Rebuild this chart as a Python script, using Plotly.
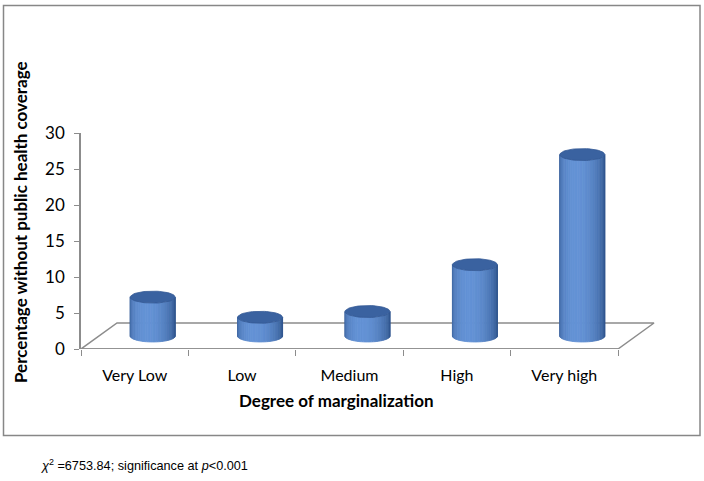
import numpy as np
import plotly.graph_objects as go

categories = ["Very Low", "Low", "Medium", "High", "Very high"]
values = [5.4, 2.6, 3.4, 9.9, 25.2]
y_ticks = [0, 5, 10, 15, 20, 25, 30]

# geometry (pixels of the 704x481 page)
W, H = 704, 481
L, R, T, B = 81, 660, 133, 349
px_per_cat = 107.4
px_per_unit = (B - T) / 30.0
x_max = -0.5 + (R - L) / px_per_cat
depth_dx = 36 / px_per_cat
depth_dy = 26 / px_per_unit
rx = 22.5 / px_per_cat
ry = 6.0 / px_per_unit

fig = go.Figure()

# floor outline
n = len(categories)
fx = [-0.5, -0.5 + depth_dx, n - 0.5 + depth_dx, n - 0.5, -0.5]
fy = [0, depth_dy, depth_dy, 0, 0]
fig.add_trace(go.Scatter(x=fx, y=fy, mode="lines", line=dict(color="#8c8c8c", width=1.5),
                         hoverinfo="skip", showlegend=False))

dark = np.array([36, 70, 124])
light = np.array([100, 147, 214])

def body_color(t):
    # t in [0, pi]; pi = left edge, 0 = right edge
    u = 1 - t / np.pi  # 0 left -> 1 right
    peak = 0.42
    if u < peak:
        k = u / peak
        k = np.sin(k * np.pi / 2) ** 0.7
    else:
        k = (1 - u) / (1 - peak)
        k = np.sin(k * np.pi / 2) ** 1.3
    c = dark + (light - dark) * (0.2 + 0.8 * k)
    return "rgb(%d,%d,%d)" % tuple(c.astype(int))

NS = 28
for i, v in enumerate(values):
    cx = i + depth_dx / 2
    yb = depth_dy / 2
    yt = yb + v
    ts = np.linspace(np.pi, 0, NS + 1)
    for j in range(NS):
        t1, t2 = ts[j], ts[j + 1]
        tt = np.linspace(t1, t2, 4)
        xs_b = cx + rx * np.cos(tt)
        ys_b = yb - ry * np.sin(tt)
        ys_t = yt - ry * np.sin(tt)
        px = list(xs_b) + list(xs_b[::-1]) + [xs_b[0]]
        py = list(ys_b) + list(ys_t[::-1]) + [ys_b[0]]
        col = body_color((t1 + t2) / 2)
        fig.add_trace(go.Scatter(x=px, y=py, mode="lines", fill="toself", fillcolor=col,
                                 line=dict(color=col, width=0.8), hoverinfo="skip",
                                 showlegend=False))
    # top ellipse
    te = np.linspace(0, 2 * np.pi, 60)
    fig.add_trace(go.Scatter(x=cx + rx * np.cos(te), y=yt + ry * np.sin(te), mode="lines",
                             fill="toself", fillcolor="rgb(58,98,160)",
                             line=dict(color="rgb(50,88,148)", width=0.8),
                             hoverinfo="skip", showlegend=False))

# front edge of floor / x axis baseline
fig.add_trace(go.Scatter(x=[-0.5, n - 0.5], y=[0, 0], mode="lines",
                         line=dict(color="#8c8c8c", width=1.5), hoverinfo="skip",
                         showlegend=False))
# invisible trace for category labels axis
fig.add_trace(go.Scatter(x=list(range(n)), y=[0] * n, xaxis="x2", mode="markers",
                         marker=dict(opacity=0), hoverinfo="skip", showlegend=False))

font_main = "Lato, Carlito, Calibri, sans-serif"

fig.update_layout(
    width=W, height=H,
    margin=dict(l=L, r=W - R, t=T, b=H - B),
    paper_bgcolor="white", plot_bgcolor="white",
    font=dict(family=font_main, color="black"),
    xaxis=dict(range=[-0.5, x_max], tickvals=[k - 0.5 for k in range(n + 1)],
               showticklabels=False, ticks="outside", ticklen=6, tickcolor="#8c8c8c",
               tickwidth=1.3, showgrid=False, zeroline=False, showline=False),
    xaxis2=dict(range=[-0.5, x_max], overlaying="x", side="bottom", tickvals=list(range(n)),
                ticktext=categories, ticks="outside", ticklen=12, tickcolor="rgba(0,0,0,0)",
                showgrid=False, zeroline=False, showline=False,
                tickfont=dict(size=16, family=font_main)),
    yaxis=dict(range=[0, 30], tickvals=y_ticks, ticks="outside", ticklen=5,
               tickcolor="#8c8c8c", tickwidth=1.3, showline=True, linecolor="#8c8c8c",
               linewidth=1.5, showgrid=False, zeroline=False,
               tickfont=dict(size=17, family=font_main), ticklabelstandoff=6),
    showlegend=False,
)

def paper_x(p):
    return (p - L) / (R - L)

def paper_y(p):
    return (B - p) / (B - T)

# outer border
fig.add_shape(type="rect", xref="paper", yref="paper",
              x0=paper_x(3.5), x1=paper_x(700), y0=paper_y(435.5), y1=paper_y(5.5),
              line=dict(color="#878787", width=1.5), fillcolor="rgba(0,0,0,0)", layer="below")

fig.add_annotation(text="<b>Percentage without public health coverage</b>", xref="paper",
                   yref="paper", x=paper_x(20), y=paper_y(222), textangle=-90,
                   showarrow=False, xanchor="center", yanchor="middle",
                   font=dict(size=17, family=font_main))
fig.add_annotation(text="<b>Degree of marginalization</b>", xref="paper", yref="paper",
                   x=paper_x(336), y=paper_y(400), showarrow=False, xanchor="center",
                   yanchor="middle", font=dict(size=17, family=font_main))
fig.add_annotation(text="<i>χ</i><sup>2</sup> =6753.84; significance at <i>p</i>&lt;0.001",
                   xref="paper", yref="paper", x=paper_x(39), y=paper_y(465),
                   showarrow=False, xanchor="left", yanchor="middle",
                   font=dict(size=12.7, family="Liberation Sans, Arial, sans-serif"))

fig.write_html("out.html", config={"displayModeBar": False},
               post_script="document.body.style.margin='0';document.body.style.overflow='hidden';")
